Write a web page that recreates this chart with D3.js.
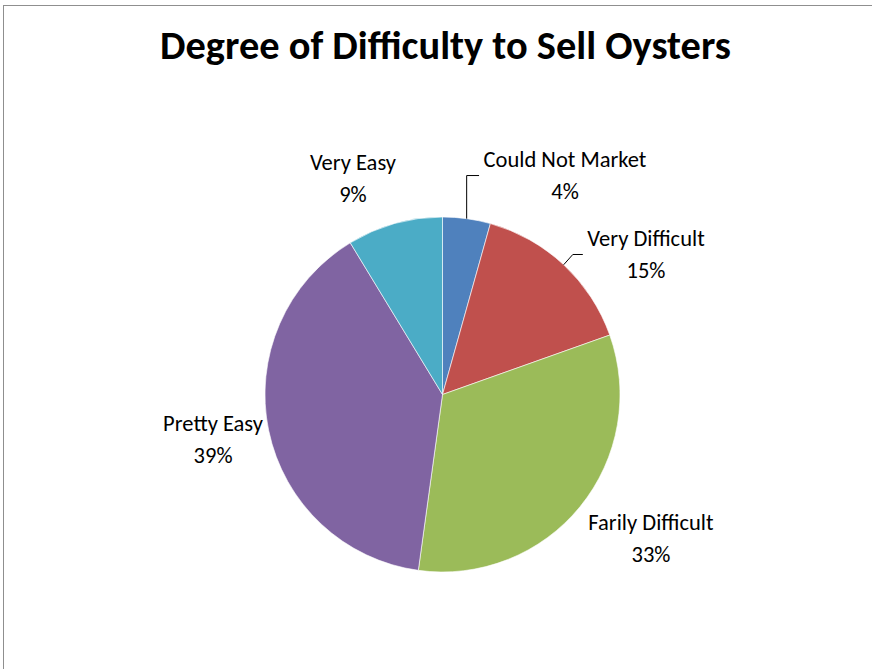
<!DOCTYPE html>
<html>
<head>
<meta charset="utf-8">
<script src="https://cdn.jsdelivr.net/npm/d3@7"></script>
<style>
  html, body { margin: 0; padding: 0; background: #fff; }
  svg { display: block; }
  text { font-family: Carlito, Lato, "Open Sans", sans-serif; fill: #000; }
</style>
</head>
<body>
<svg id="chart" width="872" height="669"></svg>
<script>
// ---- data ----
const title = "Degree of Difficulty to Sell Oysters";
const categories = ["Could Not Market", "Very Difficult", "Farily Difficult", "Pretty Easy", "Very Easy"];
const counts = [2, 7, 15, 18, 4];
const colors = ["#4F81BD", "#C0504D", "#9BBB59", "#8064A2", "#4BACC6"];

// ---- layout (not data) ----
const W = 872, H = 669;
const cx = 442.5, cy = 394.5, R = 177.5;
// label block centres relative to the point on a label arc at each slice's mid angle
const labelRadius = 240;
const labelNudge = [[89.8, 20.3], [39.7, 36.9], [22.3, -6], [5.5, -2.3], [-24.8, 16.6]];
const leaderSlices = [0, 1];

const svg = d3.select("#chart");

// chart frame
svg.append("rect")
  .attr("x", 3.5).attr("y", 5.5)
  .attr("width", W + 10).attr("height", H + 10)
  .attr("fill", "#fff").attr("stroke", "#8f8f8f").attr("stroke-width", 1);

// title
const t = svg.append("text")
  .attr("x", 445.5).attr("y", 59)
  .attr("text-anchor", "middle")
  .attr("font-weight", "bold")
  .attr("font-size", 34)
  .text(title);
{
  const w = t.node().getComputedTextLength();
  t.attr("font-size", 34 * 571 / w);
}

const total = d3.sum(counts);
const data = categories.map((c, i) => ({ name: c, value: counts[i], color: colors[i], i }));

const pie = d3.pie().value(d => d.value).sort(null);
const arcs = pie(data);
const arc = d3.arc().innerRadius(0).outerRadius(R);

const g = svg.append("g").attr("transform", `translate(${cx},${cy})`);

g.selectAll("path.slice").data(arcs).join("path")
  .attr("class", "slice")
  .attr("d", arc)
  .attr("fill", d => d.data.color)
  .attr("stroke", "#fff")
  .attr("stroke-width", 0.6);

// label font sizing: fit "Could Not Market" to ~163px
const probe = svg.append("text").attr("font-size", 20).text(categories[0]);
const labelSize = 20 * 163 / probe.node().getComputedTextLength();
probe.remove();

const lineGap = 32;
const pct = d3.format(".0%");

arcs.forEach((a, i) => {
  const mid = (a.startAngle + a.endAngle) / 2;
  const lx = labelRadius * Math.sin(mid) + labelNudge[i][0];
  const ly = -labelRadius * Math.cos(mid) + labelNudge[i][1];
  const tg = g.append("text")
    .attr("text-anchor", "middle")
    .attr("font-size", labelSize);
  tg.append("tspan").attr("x", lx).attr("y", ly - 10).text(a.data.name);
  tg.append("tspan").attr("x", lx).attr("y", ly + 22).text(pct(a.data.value / total));

  if (leaderSlices.includes(i)) {
    const ex = R * Math.sin(mid), ey = -R * Math.cos(mid);
    const firstW = tg.select("tspan").node().getComputedTextLength();
    const leftX = lx - firstW / 2 - 4.5;
    const yLine = ly - 1.5;
    const pts = (i === 0)
      ? [[ex, ey], [ex, yLine], [leftX, yLine]]
      : [[ex, ey], [leftX - 10, yLine], [leftX, yLine]];
    g.append("path")
      .attr("d", d3.line()(pts))
      .attr("fill", "none")
      .attr("stroke", "#000")
      .attr("stroke-width", 1);
  }
});
</script>
</body>
</html>
